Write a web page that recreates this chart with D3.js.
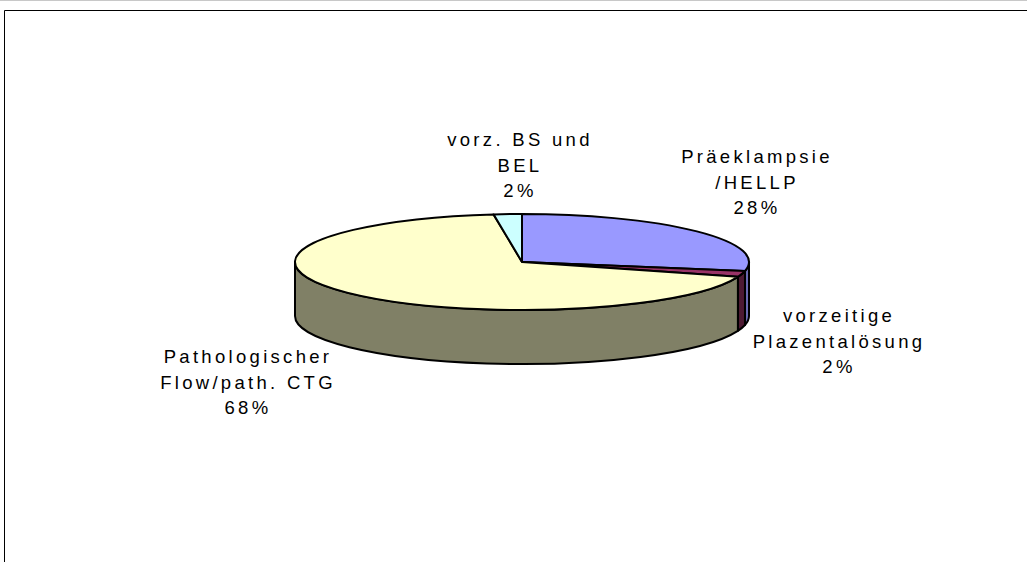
<!DOCTYPE html>
<html>
<head>
<meta charset="utf-8">
<script src="https://cdn.jsdelivr.net/npm/d3@7"></script>
<style>
  html, body { margin: 0; padding: 0; background: #fff; }
  svg { display: block; }
  text { font-family: "Liberation Sans", Arial, sans-serif; }
</style>
</head>
<body>
<svg id="chart" width="1027" height="562"></svg>
<script>
// ---- data ----
const categories = ["Präeklampsie /HELLP", "vorzeitige Plazentalösung", "Pathologischer Flow/path. CTG", "vorz. BS und BEL"];
const values = [28, 2, 68, 2];
const labelLines = [
  ["Präeklampsie", "/HELLP"],
  ["vorzeitige", "Plazentalösung"],
  ["Pathologischer", "Flow/path. CTG"],
  ["vorz. BS und", "BEL"]
];
const topColors = ["#9999FF", "#993366", "#FFFFCC", "#CCFFFF"];
const sideColors = ["#6B6BB3", "#4D1A33", "#808066", "#669999"];

// ---- layout ----
const W = 1027, H = 562;
const cx = 522, cy = 262, rx = 227, ry = 48, depth = 54;
const labelPos = [
  {x: 757, y: 163},
  {x: 839, y: 322},
  {x: 248, y: 363},
  {x: 520, y: 146}
];
const lineH = 25.5;

const svg = d3.select("#chart");

// frame
svg.append("line").attr("x1", 0).attr("x2", W).attr("y1", 0.5).attr("y2", 0.5)
  .attr("stroke", "#c8c8c8").attr("stroke-width", 1);
svg.append("path").attr("d", `M4.5,${H} L4.5,10.5 L${W},10.5`)
  .attr("fill", "none").attr("stroke", "#000").attr("stroke-width", 1);

const pie = d3.pie().sort(null).value(d => d).startAngle(0).endAngle(2 * Math.PI);
const arcs = pie(values);

const ex = a => cx + rx * Math.sin(a);
const ey = a => cy - ry * Math.cos(a);

function topPath(a0, a1) {
  const large = (a1 - a0) > Math.PI ? 1 : 0;
  return `M${cx},${cy} L${ex(a0)},${ey(a0)} A${rx},${ry} 0 ${large} 1 ${ex(a1)},${ey(a1)} Z`;
}
function sidePath(a0, a1) {
  const large = (a1 - a0) > Math.PI ? 1 : 0;
  return `M${ex(a0)},${ey(a0)} A${rx},${ry} 0 ${large} 1 ${ex(a1)},${ey(a1)}` +
         ` L${ex(a1)},${ey(a1) + depth} A${rx},${ry} 0 ${large} 0 ${ex(a0)},${ey(a0) + depth} Z`;
}

const g = svg.append("g");

// sides (visible front half: angles between PI/2 and 3PI/2)
arcs.forEach((d, i) => {
  const a0 = Math.max(d.startAngle, Math.PI / 2);
  const a1 = Math.min(d.endAngle, 3 * Math.PI / 2);
  if (a1 > a0) {
    g.append("path").attr("d", sidePath(a0, a1))
      .attr("fill", sideColors[i]).attr("stroke", "#000")
      .attr("stroke-width", 2).attr("stroke-linejoin", "round");
  }
});

// tops
arcs.forEach((d, i) => {
  g.append("path").attr("d", topPath(d.startAngle, d.endAngle))
    .attr("fill", topColors[i]).attr("stroke", "#000")
    .attr("stroke-width", 2).attr("stroke-linejoin", "round");
});

// labels
const fmt = d3.format(".0%");
const total = d3.sum(values);
arcs.forEach((d, i) => {
  const lines = labelLines[i].concat([fmt(values[i] / total)]);
  const t = svg.append("text")
    .attr("text-anchor", "middle")
    .attr("font-size", 18.5)
    .attr("letter-spacing", 3.3)
    .attr("fill", "#000");
  lines.forEach((ln, k) => {
    t.append("tspan").attr("x", labelPos[i].x).attr("y", labelPos[i].y + k * lineH).text(ln);
  });
});
</script>
</body>
</html>
